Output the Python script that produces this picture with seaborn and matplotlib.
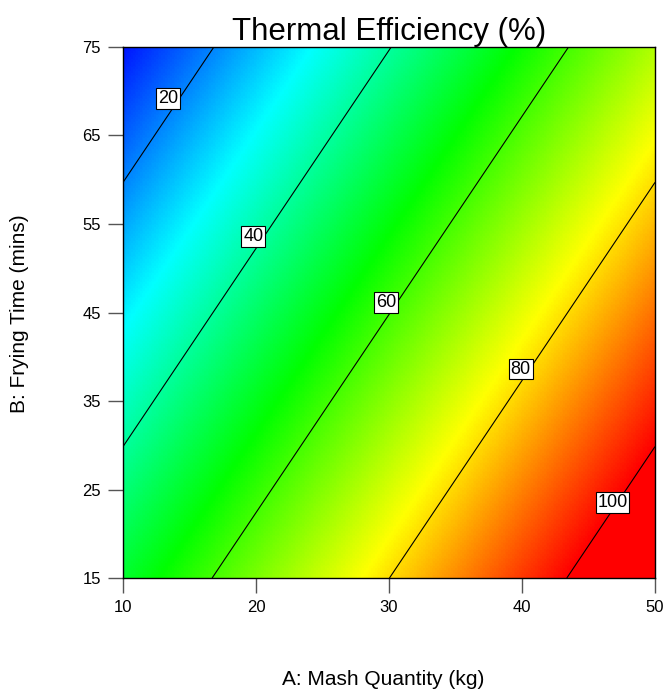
import numpy as np
import pandas as pd
import seaborn as sns
import matplotlib
matplotlib.use("Agg")
import matplotlib.pyplot as plt
from matplotlib.colors import LinearSegmentedColormap

# Data: fitted linear response surface
coef_names = ["Intercept", "A", "B"]
coef_values = [45.0, 1.5, -0.67]
a_range = [10, 50]
b_range = [15, 75]
x_ticks = [10, 20, 30, 40, 50]
y_ticks = [15, 25, 35, 45, 55, 65, 75]
contour_levels = [20, 40, 60, 80, 100]
label_A = [13.4, 19.8, 29.8, 39.9, 46.8]
label_B = [69.2, 53.6, 46.1, 38.6, 23.5]
color_range = [8, 100]

sns.set_style("white")
plt.rcParams['font.family'] = ['Liberation Sans', 'DejaVu Sans']
plt.rcParams['text.color'] = 'black'

A = np.linspace(a_range[0], a_range[1], 300)
B = np.linspace(b_range[0], b_range[1], 300)
AA, BB = np.meshgrid(A, B)
Z = coef_values[0] + coef_values[1] * AA + coef_values[2] * BB

cmap = LinearSegmentedColormap.from_list(
    "de", ["#0000ff", "#00ffff", "#00ff00", "#ffff00", "#ff0000"])

fig = plt.figure(figsize=(6.66, 6.96), dpi=100)
ax = fig.add_axes([0.1847, 0.1695, 0.7988, 0.763])
ax.pcolormesh(AA, BB, Z, cmap=cmap, vmin=color_range[0], vmax=color_range[1],
              shading="auto")
ax.contour(AA, BB, Z, levels=contour_levels, colors="black", linewidths=0.8)
for lvl, xa, yb in zip(contour_levels, label_A, label_B):
    ax.text(xa, yb, f"{lvl}", ha="center", va="center", fontsize=13, zorder=5,
            color="black",
            bbox=dict(facecolor="white", edgecolor="black", linewidth=0.8,
                      boxstyle="square,pad=0.1"))

ax.set_xlim(a_range)
ax.set_ylim(b_range)
ax.set_xticks(x_ticks)
ax.set_yticks(y_ticks)
ax.tick_params(bottom=True, left=True, direction="out", length=11, width=1,
               colors="#555555", labelcolor="black", labelsize=12, pad=5)
for s in ax.spines.values():
    s.set_color("black")
    s.set_linewidth(1)

ax.set_title("Thermal Efficiency (%)", fontsize=22.5, pad=5, color="black")
fig.text(0.575, 0.023, "A: Mash Quantity (kg)", ha="center", va="center",
         fontsize=15, color="black")
fig.text(0.03, 0.55, "B: Frying Time (mins)", ha="center", va="center",
         rotation=90, fontsize=15, color="black")

fig.savefig("out.png", dpi=100)
